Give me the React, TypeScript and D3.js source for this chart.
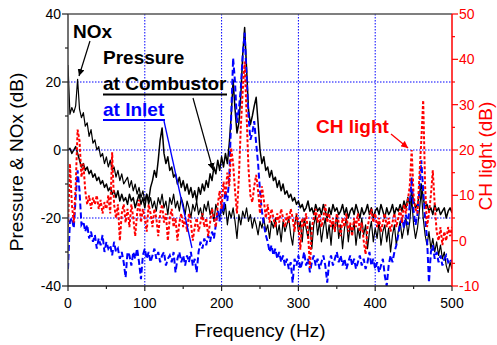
import React from "react";
import * as d3 from "d3";

// Frequency sampling (Hz) shared by all spectra
const freqStep = 2.5;
const freqs = d3.range(0, 500 + freqStep / 2, freqStep);

// NOx spectrum (dB, left axis)
const noxDb = [
  25, 10.5, 12.5, 11, 13, 20.8, 12, 9.5, 11, 7, 8, 4, 6, 2, 3, 0, 1, -2, -1, -4,
  -2, -5, -3, -6, -5, -8, -6, -9, -7, -10, -9, -8, -11, -9, -12, -10, -13, -11, -14, -12,
  -15, -13, -16, -14, -17, -15, -18, -14, -16, -13, -17, -15, -19, -14, -16, -13, -17, -15, -18, -14,
  -16, -19, -15, -17, -20, -16, -18, -15, -19, -17, -20, -16, -18, -15, -19, -17, -21, -16, -18, -20,
  -17, -19, -16, -22, -18, -20, -17, -21, -26, -19, -22, -18, -20, -17, -21, -19, -23, -20, -22, -25,
  -21, -23, -20, -24, -22, -26, -21, -23, -20, -25, -22, -27, -21, -24, -22, -20, -25, -28, -22, -19,
  -24, -21, -27, -20, -23, -26, -21, -29, -22, -19, -25, -21, -27, -23, -20, -26, -22, -28, -21, -24,
  -19, -26, -22, -29, -23, -20, -27, -22, -25, -21, -28, -23, -26, -20, -25, -22, -29, -24, -21, -27,
  -23, -26, -21, -28, -24, -22, -27, -23, -30, -25, -22, -28, -24, -21, -26, -23, -20, -25, -21, -14,
  -22, -26, -23, -18, -12, -20, -25, -28, -24, -29, -26, -30, -27, -31, -28, -32, -30, -34, -36, -33,
  -35,
];

// Pressure at combustor (dB, left axis)
const combustorDb = [
  0, 0.5, -1, 0, 1, -1, -3, -5, -4, -6, -5, -7, -6, -8, -7, -9, -8, -10, -9, -11,
  -10, -12, -11, -13, -12, -14, -12, -15, -13, -15, -14, -16, -13, -15, -14, -17, -15, -13, -16, -14,
  -17, -13, -15, -11, -9, -6, -8, -3, 3, 6.5, -1, -4, -2, -6, -5, -8, -7, -10, -8, -11,
  -9, -12, -10, -13, -11, -14, -12, -15, -11, -13, -10, -12, -9, -11, -7, -9, -5, -7, -3, -6,
  -2, -5, -1, -4, 2, 10, 20.5, 12, 5, 8, 16, 28, 36, 24, 12, 7.5, 10, 13, 15.5, 8,
  0, -4, -2, -6, -5, -8, -6, -9, -8, -11, -9, -12, -10, -13, -12, -14, -13, -15, -14, -16,
  -15, -17, -16, -18, -17, -15, -18, -17, -19, -16, -18, -17, -19, -16, -18, -20, -17, -19, -16, -18,
  -17, -19, -18, -16, -19, -17, -20, -18, -17, -19, -16, -18, -20, -17, -19, -18, -16, -19, -17, -20,
  -18, -17, -19, -16, -18, -20, -17, -19, -18, -16, -19, -17, -18, -16, -18, -15, -17, -14, -16, -12,
  -15, -17, -16, -13, -10, -14, -17, -16, -18, -17, -19, -16, -18, -17, -19, -18, -17, -20, -18, -17,
  -18.5,
];

// Pressure at inlet (dB, left axis)
const inletDb = [
  -35, -21, -20, -23, -14, -6, -12, -22, -21, -24, -22, -26, -24, -27, -25, -29, -26, -28, -25, -30,
  -27, -29, -28, -31, -27, -30, -29, -32, -30, -33, -37.5, -30, -31, -34, -30, -32, -29, -33, -38, -31,
  -29, -32, -30, -33, -31, -29, -32, -30, -33, -31, -30, -34, -32, -31, -33, -30, -36, -32, -30, -33,
  -31, -34, -31, -33, -30, -34, -32, -36, -30, -27, -29, -26, -28, -25, -27, -24, -26, -22, -18, -21,
  -15, -18, -12, -15, -8, 10, 27, 20, 8, 12, 18, 28, 34.5, 22, 10, 3, 5, 8.5, 2, -4,
  -12, -18, -22, -25, -27, -30, -28, -31, -29, -32, -30, -33, -31, -34, -32, -35, -33, -39, -32, -34,
  -31, -35, -33, -30, -34, -32, -36, -33, -31, -34, -32, -35, -33, -31, -34, -39, -33, -31, -34, -32,
  -30, -33, -31, -34, -32, -35, -33, -31, -34, -32, -35, -33, -31, -34, -32, -35, -33, -30, -34, -32,
  -35, -33, -36, -34, -32, -37, -40, -34, -31, -33, -30, -28, -25, -22, -20, -23, -19, -22, -16, -8,
  -18, -22, -19, -12, -3, -12, -20, -26, -39, -30, -28, -32, -30, -33, -31, -34, -32, -31, -33, -32,
  -33,
];

// CH light emission (dB, right axis)
const chLightDb = [
  3, 17, 8, 4, 12, 24.5, 22, 14, 17, 11, 8, 10, 7, 9.5, 8, 10, 7, 9, 6, 8.5,
  7, 10, 6, 19.5, 8, 5, 8, 0, 6, 8, 4, 7, 3, 8, 5, 1, 6, 9, 4, 7,
  5, 2, 8, 6, 3, 7, 5, 1, 6, 8, 4, 6, 0, 5, 7, 3, 5, 0, 4, 6,
  3, 5, 2, 6, 4, 0, 3, 5, 2, 4, 6, 3, 5, 1, 4, 7, 5, 3, 8, 11,
  7, 13, 10, 15, 12, 20.5, 17, 11, 6, 14, 25, 33, 39.5, 28, 16, 10, 8.5, 12, 14.5, 11,
  6, 12, 9, 5, 8, 4, 7, 5, 3, 6, 4, 7, 5, 3, 6, 4, 7, 5, 2, 6,
  4, -2, 5, 3, 6, 2, -6, 3, 5, 7, 4, 6, 3, 5, 8, 4, 6, 3, 5, 2,
  6, 4, 1, 5, 3, 6, 2, 4, 1, 5, 3, 6, 2, 4, 0, -3, 3, 5, 7, 4,
  6, 3, 5, 2, 4, 6, 3, 5, 2, 4, 6, 3, 5, 7, 4, 8, 6, 9, 12, 20,
  10, 7, 6, 14, 22, 31, 12, 3, 6, 10, 15.5, 8, 2, 0, 3, -1, 2, 0, 3, 1,
  3,
];

const xTicks = [0, 100, 200, 300, 400, 500];
const xMinorTicks = [50, 150, 250, 350, 450];
const yLeftTicks = [-40, -20, 0, 20, 40];
const yLeftMinor = [-30, -10, 10, 30];
const yRightTicks = [-10, 0, 10, 20, 30, 40, 50];
const yRightMinor = [-5, 5, 15, 25, 35, 45];
const gridX = [100, 200, 300, 400];
const gridY = [-20, 0, 20];

const W = 497;
const H = 345;
const M = { left: 68, right: 452, top: 14, bottom: 286 };
const FONT = "'Liberation Sans', Arial, Helvetica, sans-serif";
const RED = "#ff0000";
const BLUE = "#0000ff";

export default function App() {
  const x = d3.scaleLinear().domain([0, 500]).range([M.left, M.right]);
  const yL = d3.scaleLinear().domain([-40, 40]).range([M.bottom, M.top]);
  const yR = d3.scaleLinear().domain([-10, 50]).range([M.bottom, M.top]);

  const lineL = d3
    .line<number>()
    .x((_, i) => x(freqs[i]))
    .y((d) => yL(d));
  const lineR = d3
    .line<number>()
    .x((_, i) => x(freqs[i]))
    .y((d) => yR(d));

  return (
    <svg
      width={W}
      height={H}
      style={{ position: "absolute", left: 0, top: 0, background: "#fff" }}
      fontFamily={FONT}
    >
      <defs>
        <marker id="arrK" viewBox="0 0 10 10" refX="10" refY="5" markerWidth="7" markerHeight="7" orient="auto" markerUnits="userSpaceOnUse">
          <path d="M0,0 L10,5 L0,10 z" fill="#000" />
        </marker>
        <marker id="arrR" viewBox="0 0 10 10" refX="10" refY="5" markerWidth="7" markerHeight="7" orient="auto" markerUnits="userSpaceOnUse">
          <path d="M0,0 L10,5 L0,10 z" fill={RED} />
        </marker>
        <clipPath id="plotClip">
          <rect x={M.left} y={M.top - 2} width={M.right - M.left} height={M.bottom - M.top + 2} />
        </clipPath>
      </defs>

      {/* grid */}
      {gridX.map((v) => (
        <line key={"gx" + v} x1={x(v)} x2={x(v)} y1={M.top} y2={M.bottom} stroke={BLUE} strokeWidth={1} strokeDasharray="1.5,1.5" />
      ))}
      {gridY.map((v) => (
        <line key={"gy" + v} x1={M.left} x2={M.right} y1={yL(v)} y2={yL(v)} stroke={BLUE} strokeWidth={1} strokeDasharray="1.5,1.5" />
      ))}

      {/* data */}
      <g clipPath="url(#plotClip)" fill="none">
        <path d={lineL(noxDb) || ""} stroke="#000" strokeWidth={1.2} strokeLinejoin="round" />
        <path d={lineL(combustorDb) || ""} stroke="#000" strokeWidth={1.5} strokeLinejoin="round" />
        <path d={lineL(inletDb) || ""} stroke={BLUE} strokeWidth={2} strokeDasharray="6,3" />
        <path d={lineR(chLightDb) || ""} stroke={RED} strokeWidth={2} strokeDasharray="3,2" />
      </g>

      {/* frame */}
      <line x1={M.left} x2={M.right} y1={M.top} y2={M.top} stroke="#555" strokeWidth={1.5} />
      <line x1={M.left} x2={M.left} y1={M.top} y2={M.bottom} stroke="#444" strokeWidth={1.5} />
      <line x1={M.left} x2={M.right} y1={M.bottom} y2={M.bottom} stroke="#222" strokeWidth={1.5} />
      <line x1={M.right} x2={M.right} y1={M.top} y2={M.bottom} stroke={RED} strokeWidth={1.5} />

      {/* left axis */}
      {yLeftTicks.map((v) => (
        <g key={"yl" + v}>
          <line x1={M.left - 6} x2={M.left} y1={yL(v)} y2={yL(v)} stroke="#222" strokeWidth={1.2} />
          <text x={M.left - 7} y={yL(v)} dy="0.35em" textAnchor="end" fontSize={14} fill="#000">
            {v}
          </text>
        </g>
      ))}
      {yLeftMinor.map((v) => (
        <line key={"ylm" + v} x1={M.left - 3} x2={M.left} y1={yL(v)} y2={yL(v)} stroke="#222" strokeWidth={1.2} />
      ))}

      {/* bottom axis */}
      {xTicks.map((v) => (
        <g key={"xt" + v}>
          <line x1={x(v)} x2={x(v)} y1={M.bottom} y2={M.bottom + 5} stroke="#222" strokeWidth={1.2} />
          <text x={x(v)} y={308} textAnchor="middle" fontSize={14} fill="#000">
            {v}
          </text>
        </g>
      ))}
      {xMinorTicks.map((v) => (
        <line key={"xm" + v} x1={x(v)} x2={x(v)} y1={M.bottom} y2={M.bottom + 3} stroke="#222" strokeWidth={1.2} />
      ))}

      {/* right axis */}
      {yRightTicks.map((v) => (
        <g key={"yr" + v}>
          <line x1={M.right} x2={M.right + 6} y1={yR(v)} y2={yR(v)} stroke={RED} strokeWidth={1.2} />
          <text x={M.right + 7} y={yR(v)} dy="0.35em" textAnchor="start" fontSize={14} fill={RED}>
            {v}
          </text>
        </g>
      ))}
      {yRightMinor.map((v) => (
        <line key={"yrm" + v} x1={M.right} x2={M.right + 3} y1={yR(v)} y2={yR(v)} stroke={RED} strokeWidth={1.2} />
      ))}

      {/* axis titles */}
      <text x={260} y={337} textAnchor="middle" fontSize={19} fill="#000">
        Frequency (Hz)
      </text>
      <text transform="translate(23,162) rotate(-90)" textAnchor="middle" fontSize={19} fill="#000">
        Pressure &amp; NOx (dB)
      </text>
      <text transform="translate(492,156) rotate(-90)" textAnchor="middle" fontSize={19} fill={RED}>
        CH light (dB)
      </text>

      {/* annotations */}
      <text x={73} y={38} fontSize={19} fontWeight="bold" fill="#000">NOx</text>
      <line x1={90} y1={41} x2={79} y2={76} stroke="#000" strokeWidth={1.2} markerEnd="url(#arrK)" />

      <text x={103} y={64} fontSize={19} fontWeight="bold" fill="#000">Pressure</text>
      <text x={103} y={90} fontSize={19} fontWeight="bold" fill="#000">at Combustor</text>
      <line x1={103} x2={227} y1={94.5} y2={94.5} stroke="#000" strokeWidth={2} />
      <line x1={193} y1={98} x2={213} y2={170} stroke="#000" strokeWidth={1.2} markerEnd="url(#arrK)" />

      <text x={103} y={116} fontSize={19} fontWeight="bold" fill={BLUE}>at Inlet</text>
      <line x1={103} x2={165} y1={120} y2={120} stroke={BLUE} strokeWidth={2} />
      <line x1={164} y1={121} x2={192} y2={248} stroke={BLUE} strokeWidth={1.3} />

      <text x={316} y={133} fontSize={19} fontWeight="bold" fill={RED}>CH light</text>
      <line x1={391} y1={134} x2={408} y2={148} stroke={RED} strokeWidth={1.3} markerEnd="url(#arrR)" />
    </svg>
  );
}
